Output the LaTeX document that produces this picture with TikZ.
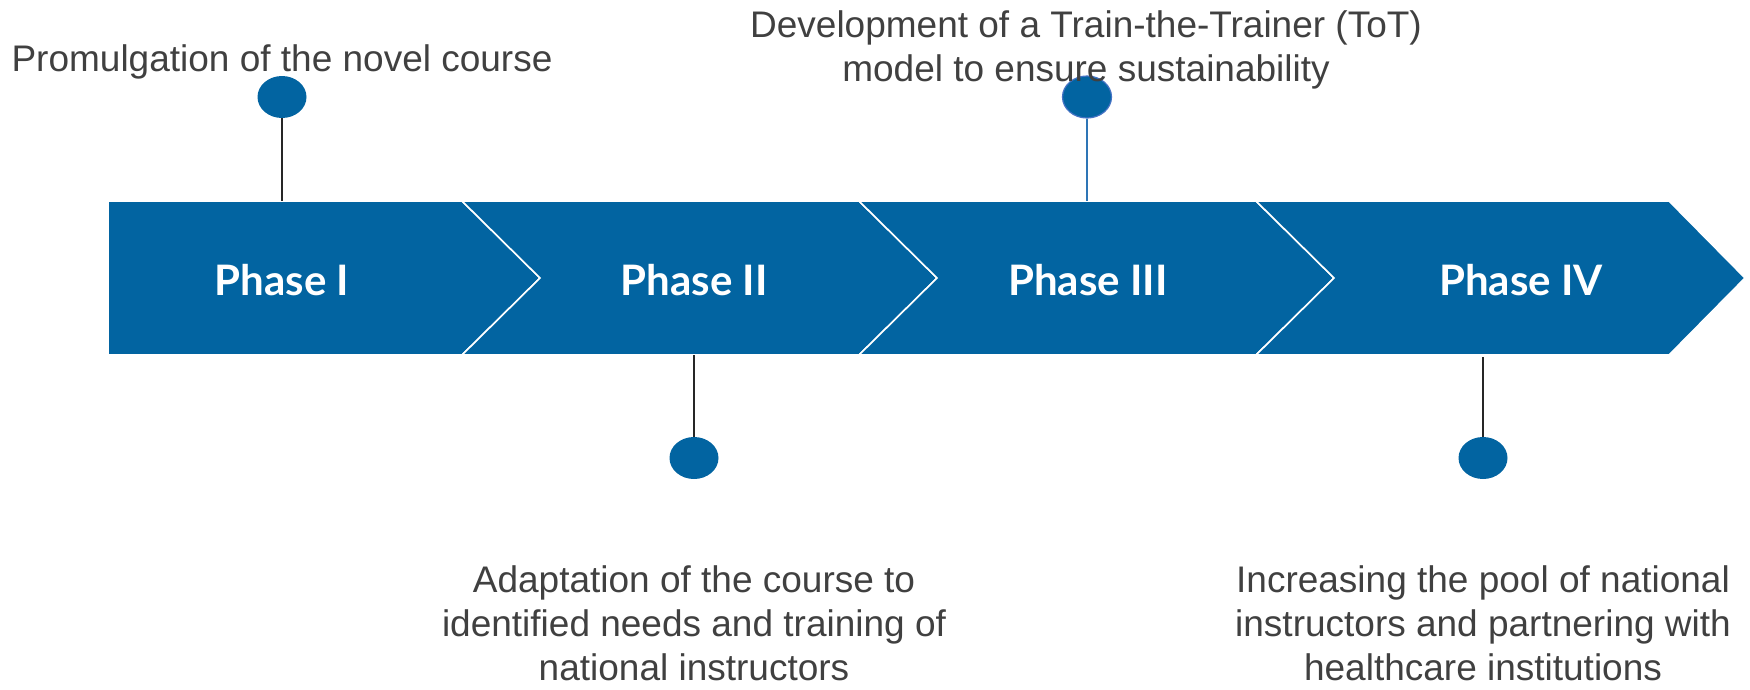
\documentclass[tikz,border=0pt]{standalone}
\usepackage{fontspec}
\setmainfont{Liberation Sans}
\newfontfamily\latobold{Lato}[BoldFont=Lato Bold]
\usetikzlibrary{shapes.geometric}
\definecolor{bandblue}{RGB}{2,100,161}
\definecolor{txtgray}{RGB}{64,64,64}
\definecolor{rimblue}{RGB}{68,114,196}
\definecolor{stemblue}{RGB}{46,117,182}
\tikzset{
  chev/.style={fill=bandblue, draw=white, line width=1.6pt, line join=miter},
  phase/.style={text=white, font=\latobold\bfseries\fontsize{42}{50}\selectfont, inner sep=0pt},
  dot/.style={ellipse, fill=bandblue, minimum width=49pt, minimum height=42pt, inner sep=0pt},
  stem/.style={draw=black!85, line width=1.3pt},
  desc/.style={text=txtgray, align=center, inner sep=0pt, font=\fontsize{37}{44}\selectfont}
}
\begin{document}
\begin{tikzpicture}[x=1pt,y=-1pt]
\useasboundingbox (0,0) rectangle (1750,689);
% chevrons
\draw[chev] (108,201) -- (462,201) -- (540,278) -- (462,355) -- (108,355) -- cycle;
\draw[chev] (462,201) -- (859,201) -- (937,278) -- (859,355) -- (462,355) -- (540,278) -- cycle;
\draw[chev] (859,201) -- (1256,201) -- (1334,278) -- (1256,355) -- (859,355) -- (937,278) -- cycle;
\draw[chev] (1256,201) -- (1669,201) -- (1745,278) -- (1669,355) -- (1256,355) -- (1334,278) -- cycle;
% phase labels
\node[phase] (p1) at (282,280) {Phase I};
\node[phase] (p2) at (694,280) {Phase II};
\node[phase] (p3) at (1088,280) {Phase III};
\node[phase] (p4) at (1521,280) {Phase IV};
% anchor points on band
\coordinate (b1) at (282,201);
\coordinate (b2) at (694,355);
\coordinate (b3) at (1087,201);
\coordinate (b4) at (1483,357);
% dots
\node[dot] (d1) at (282,97) {};
\node[dot] (d2) at (694,458) {};
\node[dot, draw=rimblue, line width=1.2pt] (d3) at (1087,97) {};
\node[dot] (d4) at (1483,458) {};
% stems
\draw[stem] (d1.south) -- (b1);
\draw[stem] (b2) -- (d2.north);
\draw[draw=stemblue, line width=1.3pt] (d3.south) -- (b3);
\draw[stem] (b4) -- (d4.north);
% descriptions
\node[desc] (t1) at (282,62) {Promulgation of the novel course};
\node[desc] (t3) at (1086,50) {Development of a Train-the-Trainer (ToT)\\model to ensure sustainability};
\node[desc] (t2) at (694,623) {Adaptation of the course to\\identified needs and training of\\national instructors};
\node[desc] (t4) at (1483,623) {Increasing the pool of national\\instructors and partnering with\\healthcare institutions};
\end{tikzpicture}
\end{document}
